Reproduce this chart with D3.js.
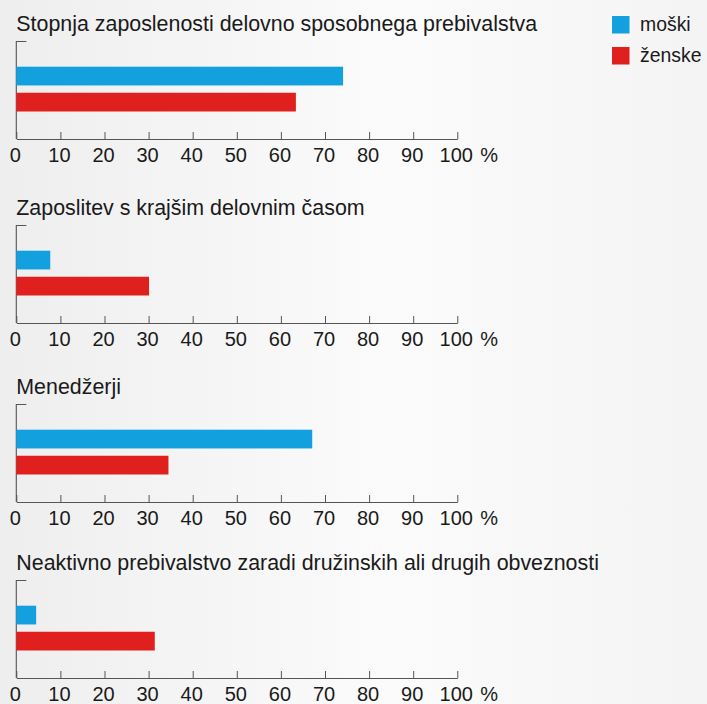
<!DOCTYPE html>
<html>
<head>
<meta charset="utf-8">
<script src="https://cdn.jsdelivr.net/npm/d3@7"></script>
<style>
  html, body { margin: 0; padding: 0; background: #ffffff; }
  svg { display: block; }
  text { font-family: "Liberation Sans", Arial, Helvetica, sans-serif; fill: #1a1a1a; }
</style>
</head>
<body>
<svg id="chart" width="707" height="704"></svg>
<script>
// ---- data ----
const panelTitles = [
  "Stopnja zaposlenosti delovno sposobnega prebivalstva",
  "Zaposlitev s krajšim delovnim časom",
  "Menedžerji",
  "Neaktivno prebivalstvo zaradi družinskih ali drugih obveznosti"
];
const seriesNames = ["moški", "ženske"];
const maleValues   = [74.1, 7.7, 67.1, 4.5];
const femaleValues = [63.4, 30.1, 34.5, 31.4];
const tickValues = [0, 10, 20, 30, 40, 50, 60, 70, 80, 90, 100];

// ---- layout ----
const colors = ["#12a0df", "#e0201f"];
const panelTops = [41, 225, 404, 580];
const panelHeight = 98;
const left = 16.3, right = 457.3;
const fontSize = 20;
const titleSize = 21.4;
const legendSize = 19.4;

const svg = d3.select("#chart");

// background paper
const defs = svg.append("defs");
const grad = defs.append("linearGradient").attr("id", "bg").attr("x1", 0).attr("x2", 1).attr("y1", 0).attr("y2", 0);
grad.append("stop").attr("offset", "0%").attr("stop-color", "#eeeeee");
grad.append("stop").attr("offset", "55%").attr("stop-color", "#fbfbfb");
grad.append("stop").attr("offset", "100%").attr("stop-color", "#f4f4f4");
svg.append("rect").attr("width", 707).attr("height", 704).attr("fill", "url(#bg)");

const x = d3.scaleLinear().domain([0, 100]).range([left, right]);
const y = d3.scaleBand().domain(seriesNames).range([25.7, 70.5]).paddingInner(0.28).paddingOuter(0);

panelTitles.forEach((title, i) => {
  const g = svg.append("g").attr("transform", `translate(0,${panelTops[i]})`);

  g.append("text")
    .attr("x", left)
    .attr("y", -10)
    .attr("font-size", titleSize)
    .text(title);

  // left axis with top cap
  g.append("path")
    .attr("d", `M${left + 10},0.5H${left}V${panelHeight}`)
    .attr("fill", "none")
    .attr("stroke", "#555")
    .attr("stroke-width", 1.1);

  const vals = [maleValues[i], femaleValues[i]];
  g.selectAll("rect.bar")
    .data(seriesNames.map((s, k) => ({ s, v: vals[k], c: colors[k] })))
    .join("rect")
    .attr("class", "bar")
    .attr("x", x(0))
    .attr("y", d => y(d.s))
    .attr("width", d => x(d.v) - x(0))
    .attr("height", y.bandwidth())
    .attr("fill", d => d.c);

  const axis = d3.axisBottom(x)
    .tickValues(tickValues)
    .tickSizeInner(-7)
    .tickSizeOuter(0)
    .tickPadding(0)
    .tickFormat(d3.format("d"));

  const ax = g.append("g")
    .attr("transform", `translate(0,${panelHeight})`)
    .call(axis);
  ax.select(".domain").attr("stroke", "#555").attr("stroke-width", 1.1);
  ax.selectAll(".tick line").attr("stroke", "#555").attr("stroke-width", 1);
  ax.selectAll(".tick text")
    .attr("y", 22.5)
    .attr("dy", 0)
    .attr("dx", -1.5)
    .attr("font-size", fontSize)
    .attr("font-family", "Liberation Sans, Arial, sans-serif")
    .attr("fill", "#1a1a1a");

  g.append("text")
    .attr("x", x(100) + 23)
    .attr("y", panelHeight + 22.5)
    .attr("font-size", fontSize)
    .text("%");
});

// legend
const legend = svg.append("g");
seriesNames.forEach((s, k) => {
  legend.append("rect")
    .attr("x", 612).attr("y", 16 + k * 31)
    .attr("width", 17.5).attr("height", 17.5)
    .attr("fill", colors[k]);
  legend.append("text")
    .attr("x", 640).attr("y", 30.5 + k * 31)
    .attr("font-size", legendSize)
    .text(s);
});
</script>
</body>
</html>
